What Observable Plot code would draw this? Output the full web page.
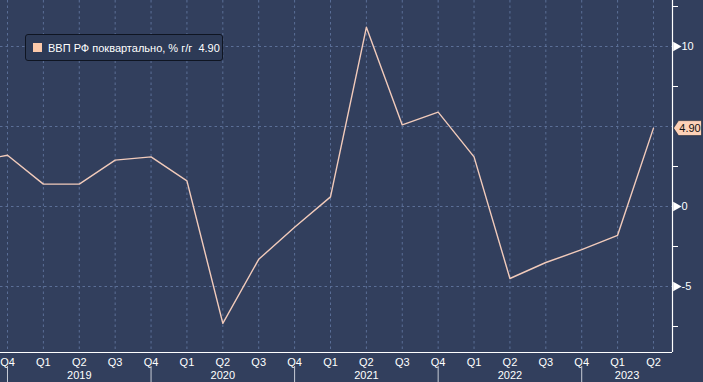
<!DOCTYPE html>
<html>
<head>
<meta charset="utf-8">
<script src="https://cdn.jsdelivr.net/npm/d3@7"></script>
<script src="https://cdn.jsdelivr.net/npm/@observablehq/plot@0.6"></script>
<style>
  html, body { margin: 0; padding: 0; background: #323f5d; }
  #wrap { position: relative; width: 703px; height: 382px; overflow: hidden; }
  #legend {
    position: absolute; left: 25px; top: 34px; width: 196px; height: 25px;
    background: #2d3a56; border: 1px solid #0f1522; border-radius: 3px;
    font-family: "Liberation Sans", Arial, sans-serif; font-size: 11px; color: #ffffff;
    display: flex; align-items: center; box-sizing: content-box; white-space: pre;
  }
  #legend .sw { width: 9px; height: 9px; background: #fcc9aa; margin-left: 7px; margin-right: 6px; }
</style>
</head>
<body>
<div id="wrap">
  <div id="chart"></div>
  <div id="legend"><span class="sw"></span><span id="legtext"></span></div>
</div>
<script>
// Data (quarterly GDP of Russia, % y/y)
const periods = ["2018 Q3","2018 Q4","2019 Q1","2019 Q2","2019 Q3","2019 Q4","2020 Q1","2020 Q2","2020 Q3","2020 Q4",
                 "2021 Q1","2021 Q2","2021 Q3","2021 Q4","2022 Q1","2022 Q2","2022 Q3","2022 Q4","2023 Q1","2023 Q2"];
const gdp = [2.8, 3.2, 1.4, 1.4, 2.9, 3.1, 1.6, -7.3, -3.3, -1.3,
             0.6, 11.2, 5.1, 5.9, 3.1, -4.5, -3.5, -2.7, -1.8, 4.9];
const seriesName = "ВВП РФ поквартально, % г/г";
const majorTicks = [-5, 0, 5, 10];
const minorTicks = [-7.5, -2.5, 2.5, 7.5, 12.5];
const yearLabels = ["2019", "2020", "2021", "2022", "2023"];

const bg = "#323f5d";
const gridColor = "#5b6f97";
const lineColor = "#f2cbbb";
const font = "'Liberation Sans', Arial, sans-serif";

// index 0 = 2018 Q4
const data = periods.map((p, k) => ({i: k - 1, q: p.split(" ")[1], year: +p.split(" ")[0], v: gdp[k]}));
const visible = data.filter(d => d.i >= 0);
const xDomain = [-0.195, 18.53];
const yDomain = [-9.125, 12.875];
const separators = visible.filter(d => d.q === "Q4").map(d => d.i);
const yearPos = separators.map((s, k) => ({label: yearLabels[k], x: ((separators[k + 1] ?? xDomain[1]) + s) / 2}));
const last = data[data.length - 1];
// major tick labels that are not hidden by the last-value tag
const shownTicks = majorTicks.filter(t => Math.abs(t - last.v) > 1);

document.getElementById("legtext").textContent = seriesName + "  " + last.v.toFixed(2);

const tagSymbol = {
  draw(ctx) {
    ctx.moveTo(1, 0);
    ctx.lineTo(6, -7.5);
    ctx.lineTo(29, -7.5);
    ctx.lineTo(29, 7.5);
    ctx.lineTo(6, 7.5);
    ctx.closePath();
  }
};

const chart = Plot.plot({
  width: 703,
  height: 382,
  marginLeft: 0,
  marginRight: 31,
  marginTop: 0,
  marginBottom: 30,
  style: {background: bg, color: "white", fontFamily: font, fontSize: "11px"},
  x: {domain: xDomain, axis: null},
  y: {domain: yDomain, axis: null},
  marks: [
    Plot.ruleX(visible, {x: "i", stroke: gridColor, strokeDasharray: "2.5,3", strokeWidth: 1}),
    Plot.ruleY(majorTicks, {y: d => d, stroke: gridColor, strokeDasharray: "2.5,3", strokeWidth: 1}),
    Plot.line(data, {x: "i", y: "v", stroke: lineColor, strokeWidth: 1.4, clip: true}),
    Plot.ruleX([xDomain[1]], {stroke: "white", strokeWidth: 1.2}),
    Plot.ruleY([yDomain[0]], {stroke: "white", strokeWidth: 1.2}),
    Plot.axisY({anchor: "right", ticks: minorTicks, tickSize: 5, tickFormat: () => "", label: null, stroke: "white"}),
    Plot.dot(shownTicks, {y: d => d, frameAnchor: "right", symbol: "triangle", r: 3.6, rotate: 90, fill: "white", dx: 3.5}),
    Plot.text(shownTicks, {y: d => d, text: d => String(d), frameAnchor: "right", textAnchor: "start", dx: 9, fill: "white", fontSize: 11}),
    Plot.text(visible, {x: "i", text: "q", frameAnchor: "bottom", lineAnchor: "middle", dy: 9.5, fill: "white", fontSize: 11}),
    Plot.ruleX(separators, {x: d => d, y1: -10.0, y2: -12.5, stroke: "#c8ccd6", strokeWidth: 1}),
    Plot.text(yearPos, {x: "x", text: "label", frameAnchor: "bottom", lineAnchor: "middle", dy: 22.5, fill: "white", fontSize: 11}),
    Plot.dot([last], {y: "v", frameAnchor: "right", symbol: tagSymbol, fill: "#fdd1b7", stroke: "#1a2233", strokeWidth: 0.6}),
    Plot.text([last], {y: "v", text: d => d.v.toFixed(2), frameAnchor: "right", textAnchor: "middle", dx: 17.5, fill: "#111", fontSize: 11})
  ]
});
document.getElementById("chart").appendChild(chart);
</script>
</body>
</html>
